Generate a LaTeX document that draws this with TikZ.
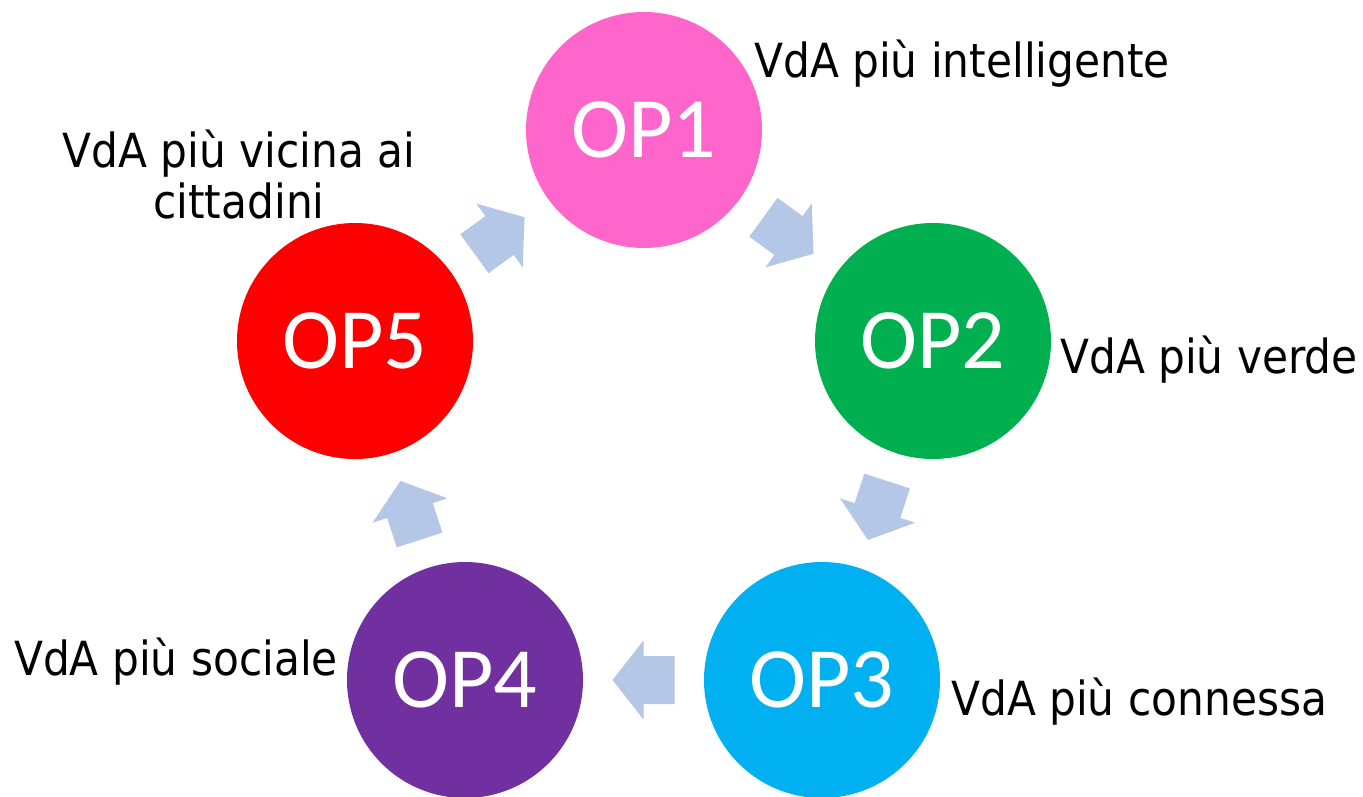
\documentclass[tikz,border=0pt]{standalone}
\usepackage{fontspec}
\setmainfont{DejaVu Sans}[FakeStretch=0.9]
\newfontfamily\opfont{Carlito}
\usetikzlibrary{calc}
\definecolor{cpink}{HTML}{FF66CC}
\definecolor{cgreen}{HTML}{00B050}
\definecolor{ccyan}{HTML}{00B0F0}
\definecolor{cpurple}{HTML}{7030A0}
\definecolor{cred}{HTML}{FF0000}
\definecolor{carrow}{HTML}{B4C7E7}
\tikzset{
  opcircle/.style={circle, minimum size=236pt, inner sep=0pt, text=white,
    font=\opfont\fontsize{86}{90}\selectfont},
  oplabel/.style={inner sep=0pt, font=\fontsize{47}{51}\selectfont, text=black},
  blockarrow/.style={fill=carrow},
}
\begin{document}
\begin{tikzpicture}[x=1pt, y=-1pt]
\useasboundingbox (0,0) rectangle (1363,796);
% circles
\node[opcircle, fill=cpink]   (op1) at (644,130) {OP1};
\node[opcircle, fill=cgreen]  (op2) at (933,341) {OP2};
\node[opcircle, fill=ccyan]   (op3) at (822,680) {OP3};
\node[opcircle, fill=cpurple] (op4) at (465,680) {OP4};
\node[opcircle, fill=cred]    (op5) at (355,341) {OP5};
% arrows between circles
\coordinate (a12) at ($(op1.center)!0.5!(op2.center)$);
\coordinate (a23) at ($(op2.center)!0.5!(op3.center)$);
\coordinate (a34) at ($(op3.center)!0.5!(op4.center)$);
\coordinate (a45) at ($(op4.center)!0.5!(op5.center)$);
\coordinate (a51) at ($(op5.center)!0.5!(op1.center)$);
\foreach \c/\r in {a12/-36, a23/-108, a34/180, a45/108, a51/36}{
  \fill[blockarrow, shift={(\c)}, rotate=\r]
    (-31,-24) -- (0,-24) -- (0,-39.5) -- (31,0) -- (0,39.5) -- (0,24) -- (-31,24) -- cycle;
}
% labels
\node[oplabel, anchor=base west] (l1) at (754,77) {VdA più intelligente};
\node[oplabel, anchor=base west] (l2) at (1060,373) {VdA più verde};
\node[oplabel, anchor=base west] (l3) at (951,715) {VdA più connessa};
\node[oplabel, anchor=base west] (l4) at (14,675) {VdA più sociale};
\node[oplabel, anchor=base, align=center] (l5) at (239,218) {VdA più vicina ai\\cittadini};
\end{tikzpicture}
\end{document}
